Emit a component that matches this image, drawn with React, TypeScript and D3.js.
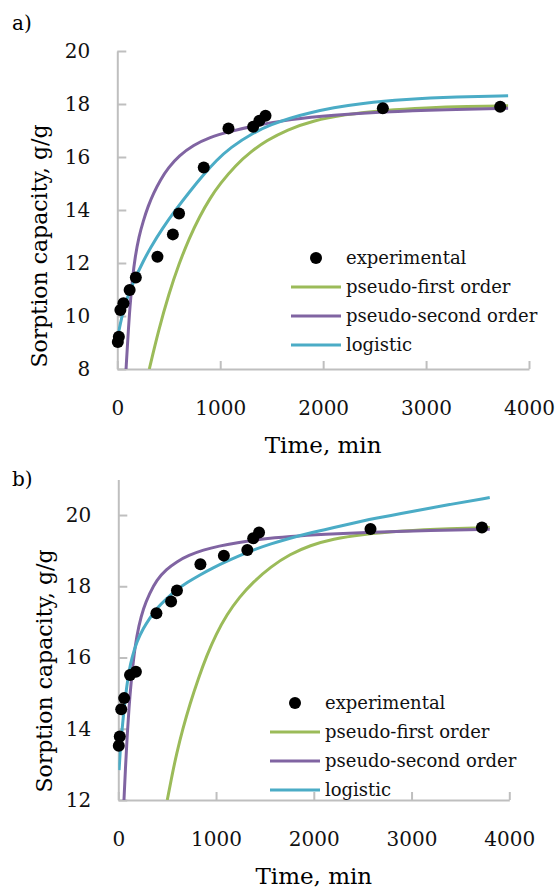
import * as d3 from "d3";
import {useEffect, useRef} from "react";

// sampling times of the kinetic experiment, min (same for both runs)
const times = [5, 15, 30, 60, 120, 180, 390, 540, 600, 840, 1080, 1320, 1380, 1440, 2580, 3720];

// experimental sorption capacity, g/g
const expA = [9.02, 9.22, 10.23, 10.48, 10.98, 11.45, 12.24, 13.08, 13.87, 15.6, 17.08, 17.14, 17.37, 17.56, 17.84, 17.9];
const expB = [13.52, 13.78, 14.55, 14.86, 15.51, 15.6, 17.24, 17.57, 17.88, 18.62, 18.86, 19.02, 19.35, 19.51, 19.61, 19.65];

// model curves, [time, q]
const firstA = [[311, 8], [400, 9.45], [500, 10.83], [600, 11.98], [700, 12.95], [800, 13.76], [900, 14.44], [1000, 15.0], [1150, 15.69], [1300, 16.21], [1450, 16.62], [1650, 17.03], [1900, 17.37], [2200, 17.6], [2600, 17.77], [3000, 17.86], [3400, 17.91], [3797, 17.93]];
const secondA = [[85, 8], [100, 9.0], [123, 10.4], [150, 11.5], [172, 12.2], [210, 13.0], [253, 13.6], [300, 14.15], [350, 14.62], [420, 15.15], [496, 15.6], [600, 16.05], [739, 16.45], [900, 16.75], [1079, 16.95], [1355, 17.2], [1678, 17.42], [2100, 17.58], [2563, 17.7], [3200, 17.79], [3797, 17.84]];
const logisticA = [[3, 9.2], [30, 9.72], [58, 10.18], [90, 10.6], [120, 10.93], [179, 11.47], [250, 12.05], [318, 12.55], [440, 13.32], [577, 14.06], [700, 14.68], [843, 15.36], [960, 15.86], [1095, 16.35], [1322, 16.92], [1500, 17.23], [1678, 17.47], [1873, 17.67], [2100, 17.86], [2359, 18.02], [2800, 18.18], [3300, 18.27], [3797, 18.31]];

const firstB = [[501, 12], [550, 12.7], [597, 13.31], [660, 14.0], [733, 14.7], [820, 15.42], [904, 16.05], [1000, 16.65], [1109, 17.2], [1240, 17.7], [1381, 18.12], [1560, 18.55], [1757, 18.9], [1961, 19.15], [2200, 19.33], [2472, 19.45], [2900, 19.56], [3400, 19.62], [3800, 19.65]];
const secondB = [[58, 12], [75, 13.0], [92, 13.87], [110, 14.6], [127, 15.18], [150, 15.8], [171, 16.3], [210, 16.9], [256, 17.38], [320, 17.8], [393, 18.18], [490, 18.47], [597, 18.69], [720, 18.87], [870, 19.02], [1030, 19.13], [1211, 19.22], [1450, 19.32], [1757, 19.4], [2100, 19.46], [2575, 19.52], [3200, 19.57], [3800, 19.6]];
const logisticB = [[8, 12.84], [20, 13.4], [35, 13.87], [60, 14.6], [86, 15.18], [110, 15.62], [137, 15.98], [190, 16.45], [256, 16.82], [320, 17.1], [393, 17.38], [500, 17.67], [597, 17.9], [700, 18.1], [836, 18.32], [970, 18.52], [1109, 18.7], [1240, 18.86], [1381, 19.02], [1560, 19.19], [1757, 19.35], [1961, 19.5], [2300, 19.71], [2626, 19.91], [3000, 20.1], [3400, 20.3], [3800, 20.49]];

const xTicks = [0, 1000, 2000, 3000, 4000];
const yTicksA = [8, 10, 12, 14, 16, 18, 20];
const yTicksB = [12, 14, 16, 18, 20];
const legendLabels = ["experimental", "pseudo-first order", "pseudo-second order", "logistic"];
const colors = ["#9BBB59", "#8064A2", "#4BACC6"];

const font = "'DejaVu Serif', serif";

const panels = [
  {tag: "a)", tagY: 30, left: 117.3, right: 529, top: 51, bottom: 369, yDomain: [8, 20], yTicks: yTicksA,
    exp: expA, curves: [firstA, secondA, logisticA], legendX: 316, legendY: 258, titleX: 47, titleY: 246},
  {tag: "b)", tagY: 486, left: 118.3, right: 509.3, top: 479.4, bottom: 800, yDomain: [12, 21], yTicks: yTicksB,
    exp: expB, curves: [firstB, secondB, logisticB], legendX: 295, legendY: 703, titleX: 52, titleY: 671},
];

function App() {
  const ref = useRef<SVGSVGElement>(null);

  useEffect(() => {
    const svg = d3.select(ref.current);
    svg.selectAll("*").remove();

    panels.forEach((p, pi) => {
      const x = d3.scaleLinear().domain([0, 4000]).range([p.left, p.right]);
      const y = d3.scaleLinear().domain(p.yDomain).range([p.bottom, p.top]);
      const g = svg.append("g");

      // panel tag
      g.append("text").attr("x", 12).attr("y", p.tagY)
        .style("font-family", font).style("font-size", "20px").text(p.tag);

      // y axis, ticks pointing inwards
      const ya = g.append("g").attr("transform", `translate(${p.left},0)`)
        .call(d3.axisLeft(y).tickValues(p.yTicks).tickSizeInner(-9).tickSizeOuter(0).tickPadding(27).tickFormat(d3.format("d")));
      // x axis
      const xa = g.append("g").attr("transform", `translate(0,${p.bottom})`)
        .call(d3.axisBottom(x).tickValues(xTicks).tickSizeInner(-8).tickSizeOuter(0).tickPadding(32).tickFormat(d3.format("d")));

      [ya, xa].forEach(a => {
        a.select(".domain").attr("stroke", "#bfbfbf").attr("stroke-width", 2);
        a.selectAll(".tick line").attr("stroke", "#bfbfbf").attr("stroke-width", 2);
        a.selectAll("text").attr("fill", "#111").style("font-family", font).style("font-size", "20px");
      });

      // axis titles
      g.append("text").attr("x", (p.left + p.right) / 2).attr("y", p.bottom + 84)
        .attr("text-anchor", "middle").style("font-family", font).style("font-size", "23px")
        .text("Time, min");
      g.append("text").attr("transform", `translate(${p.titleX},${p.titleY}) rotate(-90)`)
        .attr("text-anchor", "middle").style("font-family", font).style("font-size", "22px")
        .text("Sorption capacity, g/g");

      // curves (smoothed through the points)
      const clipId = "clip" + pi;
      g.append("clipPath").attr("id", clipId).append("rect")
        .attr("x", p.left).attr("y", p.top - 10).attr("width", p.right - p.left + 10).attr("height", p.bottom - p.top + 10);
      const line = d3.line<number[]>().x(d => x(d[0])).y(d => y(d[1])).curve(d3.curveBasis);
      p.curves.forEach((c, i) => {
        g.append("path").attr("d", line(c)).attr("fill", "none")
          .attr("stroke", colors[i]).attr("stroke-width", 3).attr("clip-path", `url(#${clipId})`);
      });

      // experimental points
      g.selectAll(".pt").data(times).enter().append("circle")
        .attr("cx", d => x(d)).attr("cy", (d, i) => y(p.exp[i])).attr("r", 6).attr("fill", "#000");

      // legend
      const lg = g.append("g").style("font-family", font).style("font-size", "18px");
      legendLabels.forEach((lab, i) => {
        const ly = p.legendY + 29 * i;
        if (i === 0) {
          lg.append("circle").attr("cx", p.legendX).attr("cy", ly).attr("r", 6).attr("fill", "#000");
        } else {
          lg.append("line").attr("x1", p.legendX - 25).attr("x2", p.legendX + 25).attr("y1", ly).attr("y2", ly)
            .attr("stroke", colors[i - 1]).attr("stroke-width", 3);
        }
        lg.append("text").attr("x", p.legendX + 30).attr("y", ly + 6).attr("fill", "#111").text(lab);
      });
    });
  });

  return (
    <svg ref={ref} width={558} height={889} style={{position: "absolute", left: 0, top: 0, background: "#fff"}} />
  );
}

export default App;
